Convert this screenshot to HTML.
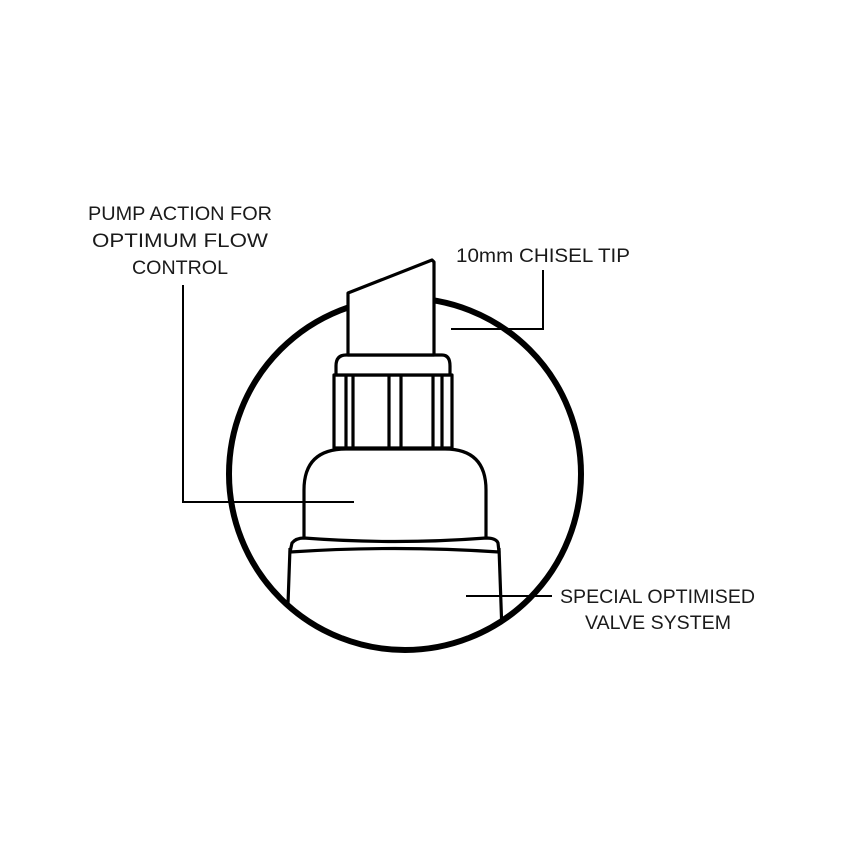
<!DOCTYPE html>
<html><head><style>
html,body{margin:0;padding:0;background:#fff;}
svg{display:block;}
text{font-family:"Liberation Sans",sans-serif;font-size:19px;fill:#1a1a1a;}
</style></head><body>
<svg width="850" height="850" viewBox="0 0 850 850" xmlns="http://www.w3.org/2000/svg">
<defs><clipPath id="c"><circle cx="405" cy="474" r="176"/></clipPath></defs>
<circle cx="405" cy="474" r="176" fill="none" stroke="#000" stroke-width="6"/>
<g fill="#fff" stroke="#000" stroke-width="3.2" stroke-linejoin="round">
<!-- body below rim -->
<g clip-path="url(#c)">
<path d="M290 548 L286 660 M499 548 L503 660" fill="none"/>
</g>
<!-- dome -->
<path d="M304 540 L304 490 Q304 449 346 449 L445 449 Q486 449 486 490 L486 540"/>
<!-- rim -->
<path d="M292 543 Q296 538 304 538 Q395 545 486 538 Q496 538 498 543 L499 552 Q395 545 290 552 Z"/>
<!-- ribbed section -->
<rect x="334" y="375" width="118" height="73"/>
<path d="M346 375 V448 M353 375 V448 M389 375 V448 M401 375 V448 M433 375 V448 M442 375 V448" fill="none"/>
<!-- collar -->
<path d="M336 375 L336 366 Q336 355 346 355 L442 355 Q450 355 450 366 L450 375 Z"/>
<!-- tip -->
<path d="M348 355 L348 293 L432 260 L434 262 L434 355 Z"/>
</g>
<g stroke="#000" stroke-width="2" fill="none">
<path d="M183 285 L183 502 L354 502"/>
<path d="M451 329 L543 329 L543 270"/>
<path d="M466 596 L552 596"/>
</g>
<text x="180" y="220" text-anchor="middle" textLength="184" lengthAdjust="spacingAndGlyphs">PUMP ACTION FOR</text>
<text x="180" y="247" text-anchor="middle" textLength="176" lengthAdjust="spacingAndGlyphs">OPTIMUM FLOW</text>
<text x="180" y="274" text-anchor="middle" textLength="96" lengthAdjust="spacingAndGlyphs">CONTROL</text>
<text x="456" y="262" textLength="174" lengthAdjust="spacingAndGlyphs">10mm CHISEL TIP</text>
<text x="560" y="603" textLength="195" lengthAdjust="spacingAndGlyphs">SPECIAL OPTIMISED</text>
<text x="585" y="629" textLength="146" lengthAdjust="spacingAndGlyphs">VALVE SYSTEM</text>
</svg>
</body></html>
